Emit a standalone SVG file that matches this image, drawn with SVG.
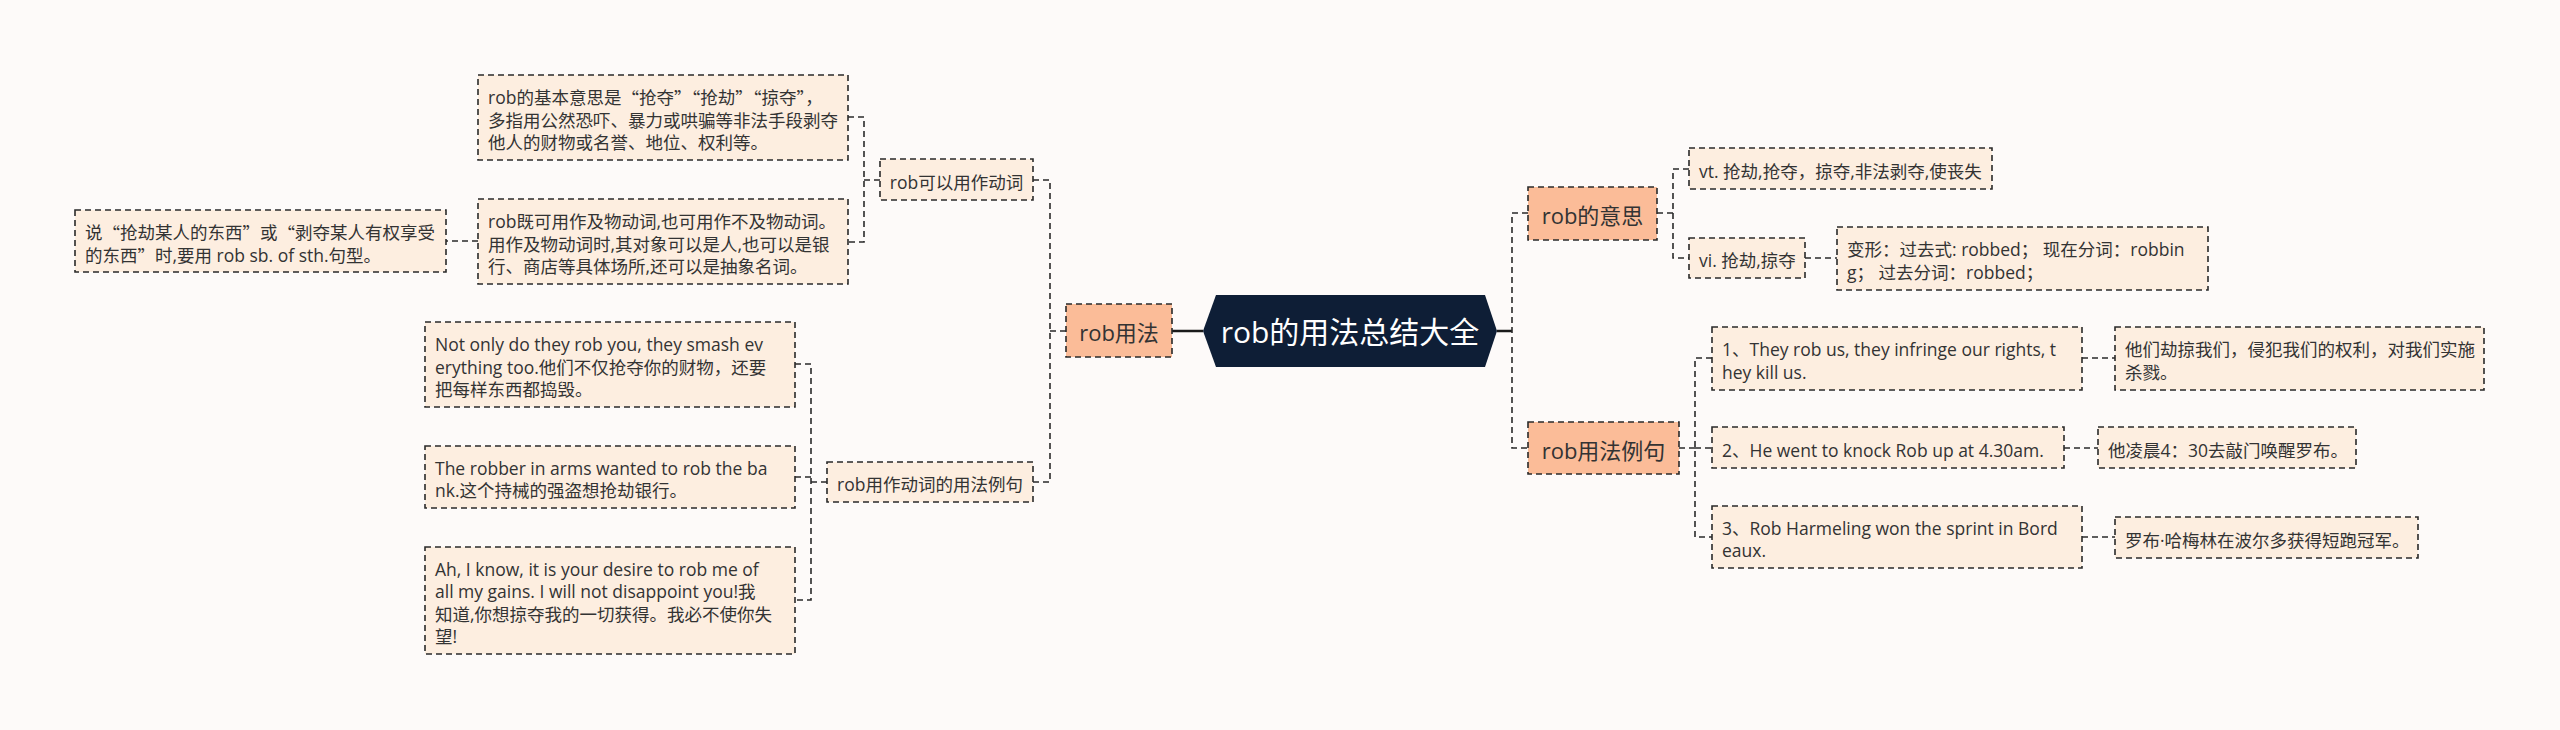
<svg xmlns="http://www.w3.org/2000/svg" width="2560" height="730" viewBox="0 0 2560 730">
<style>
text{font-family:"Open Sans","Noto Sans CJK SC",sans-serif;fill:#333;dominant-baseline:central}
.t18{font-size:17.5px}
.t22{font-size:22px}
.root{font-size:30px;fill:#fff}
.q{font-family:"Noto Sans CJK SC",sans-serif}
.leaf{fill:#fdeee0;stroke:#2a2a2a;stroke-width:1.6;stroke-dasharray:6 4}
.main{fill:#fbbc98;stroke:#2a2a2a;stroke-width:1.6;stroke-dasharray:6 4}
.c{fill:none;stroke:#2a2a2a;stroke-width:1.6;stroke-dasharray:6 4}
.s{fill:none;stroke:#1a1a1a;stroke-width:2.5}
</style>
<rect width="2560" height="730" fill="#fdfaf9"/>
<g id="connectors">
<path class="s" d="M1203,331H1172M1497,331H1512"/>
<path class="c" d="M1066,331H1050M1033,180H1050V482H1033"/>
<path class="c" d="M880,180H864M848,117H864V242H848"/>
<path class="c" d="M827,482H811M795,364H811V600H795M795,477H811"/>
<path class="c" d="M478,241H446"/>
<path class="c" d="M1528,213H1512V448H1528"/>
<path class="c" d="M1657,213H1673M1689,169H1673V258H1689"/>
<path class="c" d="M1805,258H1837"/>
<path class="c" d="M1679,448H1695M1712,358H1695V537H1712M1695,448H1712"/>
<path class="c" d="M2082,358H2115M2064,448H2098M2082,537H2115"/>
</g>
<g id="root">
<polygon points="1203,331 1216,295 1485,295 1497,331 1485,367 1216,367" fill="#0e1e36"/>
<text class="root" x="1350" y="331" text-anchor="middle">rob的用法总结大全</text>
</g>
<g id="n-usage">
<rect class="main" x="1066" y="304" width="106" height="53"/>
<text class="t22" x="1119" y="332" text-anchor="middle">rob用法</text>
</g>
<g id="n-meaning">
<rect class="main" x="1528" y="187" width="129" height="53"/>
<text class="t22" x="1592.5" y="215" text-anchor="middle">rob的意思</text>
</g>
<g id="n-examples">
<rect class="main" x="1528" y="422" width="151" height="52"/>
<text class="t22" x="1603.5" y="450" text-anchor="middle">rob用法例句</text>
</g>
<g id="n-verb">
<rect class="leaf" x="880" y="159" width="153" height="41"/>
<text class="t18" x="956.5" y="181.5" text-anchor="middle">rob可以用作动词</text>
</g>
<g id="n-verb-examples">
<rect class="leaf" x="827" y="462" width="206" height="40"/>
<text class="t18" x="930" y="484" text-anchor="middle">rob用作动词的用法例句</text>
</g>
<g id="n-basic">
<rect class="leaf" x="478" y="75" width="370" height="85"/>
<text class="t18" x="488" y="97">rob的基本意思是<tspan class="q">“</tspan>抢夺<tspan class="q">”“</tspan>抢劫<tspan class="q">”“</tspan>掠夺<tspan class="q">”</tspan>，</text>
<text class="t18" x="488" y="119.5">多指用公然恐吓、暴力或哄骗等非法手段剥夺</text>
<text class="t18" x="488" y="142">他人的财物或名誉、地位、权利等。</text>
</g>
<g id="n-trans">
<rect class="leaf" x="478" y="199" width="370" height="85"/>
<text class="t18" x="488" y="221">rob既可用作及物动词,也可用作不及物动词。</text>
<text class="t18" x="488" y="243.5">用作及物动词时,其对象可以是人,也可以是银</text>
<text class="t18" x="488" y="266">行、商店等具体场所,还可以是抽象名词。</text>
</g>
<g id="n-pattern">
<rect class="leaf" x="75" y="210" width="371" height="62"/>
<text class="t18" x="85" y="232">说<tspan class="q">“</tspan>抢劫某人的东西<tspan class="q">”</tspan>或<tspan class="q">“</tspan>剥夺某人有权享受</text>
<text class="t18" x="85" y="254.5">的东西<tspan class="q">”</tspan>时,要用 rob sb. of sth.句型。</text>
</g>
<g id="n-e1">
<rect class="leaf" x="425" y="322" width="370" height="85"/>
<text class="t18" x="435" y="344">Not only do they rob you, they smash ev</text>
<text class="t18" x="435" y="366.5">erything too.他们不仅抢夺你的财物，还要</text>
<text class="t18" x="435" y="389">把每样东西都捣毁。</text>
</g>
<g id="n-e2">
<rect class="leaf" x="425" y="446" width="370" height="62"/>
<text class="t18" x="435" y="467.75">The robber in arms wanted to rob the ba</text>
<text class="t18" x="435" y="490.25">nk.这个持械的强盗想抢劫银行。</text>
</g>
<g id="n-e3">
<rect class="leaf" x="425" y="547" width="370" height="107"/>
<text class="t18" x="435" y="568.75">Ah, I know, it is your desire to rob me of</text>
<text class="t18" x="435" y="591.25">all my gains. I will not disappoint you!我</text>
<text class="t18" x="435" y="613.75">知道,你想掠夺我的一切获得。我必不使你失</text>
<text class="t18" x="435" y="636.25">望!</text>
</g>
<g id="n-vt">
<rect class="leaf" x="1689" y="148" width="303" height="41"/>
<text class="t18" x="1699" y="170.5">vt. 抢劫,抢夺，掠夺,非法剥夺,使丧失</text>
</g>
<g id="n-vi">
<rect class="leaf" x="1689" y="238" width="116" height="40"/>
<text class="t18" x="1699" y="260">vi. 抢劫,掠夺</text>
</g>
<g id="n-forms">
<rect class="leaf" x="1837" y="227" width="371" height="63"/>
<text class="t18" x="1847" y="249.25">变形：过去式: robbed； 现在分词：robbin</text>
<text class="t18" x="1847" y="271.75">g； 过去分词：robbed；</text>
</g>
<g id="n-s1">
<rect class="leaf" x="1712" y="327" width="370" height="63"/>
<text class="t18" x="1722" y="349.25">1、They rob us, they infringe our rights, t</text>
<text class="t18" x="1722" y="371.75">hey kill us.</text>
</g>
<g id="n-t1">
<rect class="leaf" x="2115" y="327" width="369" height="63"/>
<text class="t18" x="2125" y="349.25">他们劫掠我们，侵犯我们的权利，对我们实施</text>
<text class="t18" x="2125" y="371.75">杀戮。</text>
</g>
<g id="n-s2">
<rect class="leaf" x="1712" y="427" width="352" height="41"/>
<text class="t18" x="1722" y="449.5">2、He went to knock Rob up at 4.30am.</text>
</g>
<g id="n-t2">
<rect class="leaf" x="2098" y="427" width="258" height="41"/>
<text class="t18" x="2108" y="449.5">他凌晨4：30去敲门唤醒罗布。</text>
</g>
<g id="n-s3">
<rect class="leaf" x="1712" y="506" width="370" height="62"/>
<text class="t18" x="1722" y="527.75">3、Rob Harmeling won the sprint in Bord</text>
<text class="t18" x="1722" y="550.25">eaux.</text>
</g>
<g id="n-t3">
<rect class="leaf" x="2115" y="517" width="303" height="41"/>
<text class="t18" x="2125" y="539.5">罗布·哈梅林在波尔多获得短跑冠军。</text>
</g>
</svg>
